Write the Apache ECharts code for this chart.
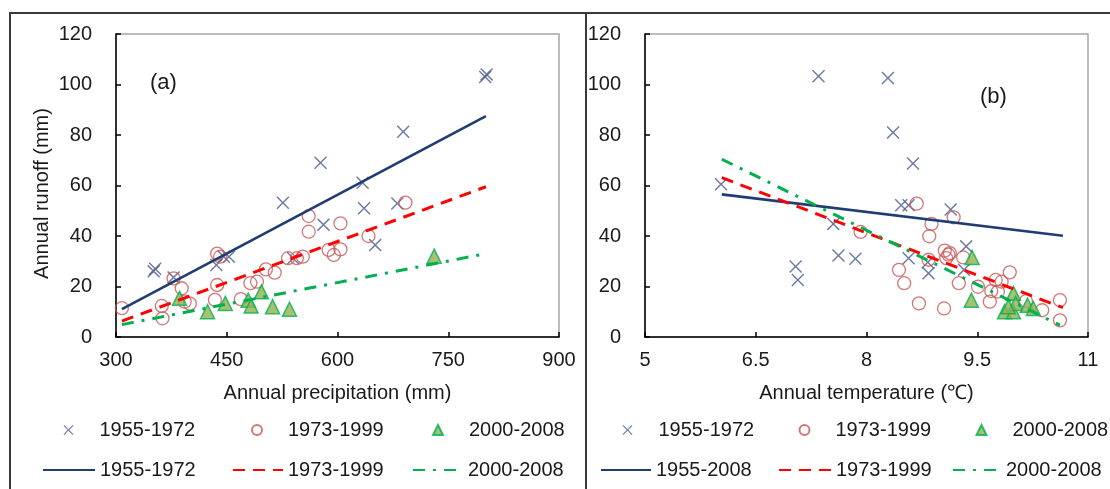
<!DOCTYPE html>
<html>
<head>
<meta charset="utf-8">
<title>runoff</title>
<script src="https://cdn.jsdelivr.net/npm/echarts@6/dist/echarts.min.js"></script>
<style>
  html, body { margin: 0; padding: 0; background: #fff; }
  #chart { width: 1110px; height: 489px; }
</style>
</head>
<body>
<div id="chart"></div>
<script>
// (a) precipitation vs runoff
var precip1 = [351, 353, 378, 436, 446, 453, 526, 540, 577, 581, 634, 636, 651, 681, 689, 800, 802];
var runoffP1 = [26, 27, 23.6, 28.5, 31.8, 31.8, 53.2, 31.2, 69, 44.5, 61.1, 51, 36.4, 52.9, 81.3, 103, 104];
var precip2 = [308, 362, 363, 378, 389, 393, 400, 434, 437, 437, 441, 469, 482, 491, 503, 515, 533, 545, 553, 561, 561, 588, 595, 604, 604, 642, 692];
var runoffP2 = [11.4, 12.3, 7.4, 23.2, 19.3, 14, 13.2, 14.7, 20.6, 33, 31.8, 15, 21.3, 21.9, 26.8, 25.5, 31.2, 31.2, 31.8, 47.9, 41.7, 34.5, 32.5, 34.7, 45, 40, 53.2];
var precip3 = [386, 424, 448, 479, 483, 497, 512, 535, 731];
var runoffP3 = [15.3, 10, 13.3, 14.6, 12.3, 17.9, 12, 11, 32];
var fitP1 = [[308, 11], [801, 87.5]];
var fitP2 = [[308, 6.3], [801, 59.5]];
var fitP3 = [[308, 4.9], [801, 33]];

// (b) temperature vs runoff
var temp1 = [6.03, 7.35, 8.29, 8.36, 8.63, 8.47, 8.57, 9.14, 7.55, 7.04, 7.07, 7.62, 7.85, 8.57, 8.83, 8.84, 9.35, 9.32];
var runoffT1 = [60.5, 103.3, 102.6, 81, 68.7, 52.2, 52.2, 50.5, 44.8, 27.9, 22.6, 32.3, 31, 31.2, 29.6, 25.2, 35.9, 26.6];
var temp2 = [8.68, 9.18, 8.88, 8.85, 7.92, 9.06, 9.11, 9.08, 9.13, 8.84, 9.31, 8.44, 8.51, 8.71, 9.05, 9.25, 9.51, 9.67, 9.69, 9.75, 9.83, 9.94, 10.16, 10.38, 10.62, 10.62, 9.78];
var runoffT2 = [52.8, 47.4, 44.8, 39.9, 41.6, 34.2, 32.6, 31.2, 33.2, 30.6, 31.5, 26.6, 21.3, 13.3, 11.3, 21.3, 19.9, 14, 18.2, 22.6, 21.9, 25.6, 14.2, 10.6, 14.6, 6.6, 18];
var temp3 = [9.43, 9.42, 9.99, 9.87, 9.99, 10.02, 10.18, 10.26, 9.92];
var runoffT3 = [31.5, 14.6, 17.3, 10, 10, 13.3, 12.6, 11.3, 12];
var fitT1 = [[6.04, 56.5], [10.66, 40.1]];
var fitT2 = [[6.04, 63.1], [10.66, 11.6]];
var fitT3 = [[6.04, 70.4], [10.62, 4.7]];

var periods = ["1955-1972", "1973-1999", "2000-2008"];
var fitNames = ["1955-1972", "1973-1999", "2000-2008", "1955-2008"];
var tempTicks = [5, 6.5, 8, 9.5, 11];

(function() {
  var myChart = echarts.init(document.getElementById("chart"));
  var font = "'Liberation Sans', Arial, sans-serif";
  var txt = "#1a1a1a";
  var crossPath = "path://M0,8L8,0L50,42L92,0L100,8L58,50L100,92L92,100L50,58L8,100L0,92L42,50Z";
  var triPath = "path://M50,0L100,100L0,100Z";

  function zip(xs, ys) {
    return xs.map(function(x, i) { return [x, ys[i]]; });
  }

  // 三种散点样式
  var marks = [
    { symbol: crossPath, symbolSize: 13, itemStyle: { color: "#4a5b8c" } },
    { symbol: "circle", symbolSize: 13, itemStyle: { color: "rgba(255,255,255,0)", borderColor: "#c85555", borderWidth: 1.3 } },
    { symbol: triPath, symbolSize: 14, itemStyle: { color: "#93b050", borderColor: "#00b050", borderWidth: 1.5 } }
  ];
  var fits = [
    { color: "#1f3c73", width: 2.6, type: "solid" },
    { color: "#ff0000", width: 3, type: [12, 8] },
    { color: "#00b050", width: 3, type: [12, 8, 3, 8] }
  ];

  function scatter(name, idx, k, data) {
    return {
      name: name, type: "scatter", xAxisIndex: idx, yAxisIndex: idx,
      symbol: marks[k].symbol, symbolSize: marks[k].symbolSize, symbolKeepAspect: true,
      itemStyle: marks[k].itemStyle, data: data, silent: true
    };
  }
  function fit(name, idx, k, data) {
    return {
      name: name, type: "line", xAxisIndex: idx, yAxisIndex: idx,
      symbol: "none", data: data, silent: true, z: 3,
      itemStyle: { color: fits[k].color },
      lineStyle: { color: fits[k].color, width: fits[k].width, type: fits[k].type }
    };
  }

  function xAxis(idx, min, max, interval, name) {
    return {
      type: "value", gridIndex: idx, min: min, max: max, interval: interval,
      name: name, nameLocation: "middle", nameGap: 46,
      nameTextStyle: { fontSize: 20, color: txt, fontFamily: font },
      axisLine: { lineStyle: { color: "#000", width: 1.5 } },
      axisTick: { inside: true, length: 5, lineStyle: { color: "#000", width: 1.5 } },
      axisLabel: { fontSize: 20, color: txt, fontFamily: font, margin: 13 },
      splitLine: { show: false }
    };
  }
  function yAxis(idx, name) {
    return {
      type: "value", gridIndex: idx, min: 0, max: 120, interval: 20,
      name: name, nameLocation: "middle", nameGap: 64,
      nameTextStyle: { fontSize: 20, color: txt, fontFamily: font, padding: [0, 16, 0, 0] },
      axisLine: { lineStyle: { color: "#000", width: 1.5 } },
      axisTick: { inside: true, length: 5, lineStyle: { color: "#000", width: 1.5 } },
      axisLabel: { fontSize: 20, color: txt, fontFamily: font, margin: 24 },
      splitLine: { show: false }
    };
  }

  var xT = xAxis(1, 5, 11, 1.5, "Annual temperature (℃)");
  xT.axisLabel.customValues = tempTicks;
  xT.axisTick.customValues = tempTicks;

  // 图例：每项单独定位
  function legend(name, left, top, w, label, isLine) {
    var lg = {
      data: [name], left: left, top: top, itemWidth: w, itemHeight: 10,
      padding: 0, selectedMode: false,
      formatter: function() { return label; },
      textStyle: { fontSize: 20, color: txt, fontFamily: font, lineHeight: 20 }
    };
    if (isLine) {
      lg.itemStyle = { color: "rgba(0,0,0,0)", borderWidth: 0, borderColor: "rgba(0,0,0,0)" };
    }
    return lg;
  }
  var row1 = 420, row2 = 460;
  var legends = [
    legend(periods[0], 63.5, row1, 52, periods[0]),
    legend(periods[1], 251, row1, 52, periods[1]),
    legend(periods[2], 432, row1, 52, periods[2]),
    legend("fit a " + fitNames[0], 42, row2, 52, fitNames[0], true),
    legend("fit a " + fitNames[1], 232, row2, 50, fitNames[1], true),
    legend("fit a " + fitNames[2], 412, row2, 50, fitNames[2], true),
    legend(periods[0], 622.5, row1, 52, periods[0]),
    legend(periods[1], 798.5, row1, 52, periods[1]),
    legend(periods[2], 975.5, row1, 52, periods[2]),
    legend("fit b " + fitNames[3], 600, row2, 50, fitNames[3], true),
    legend("fit b " + fitNames[1], 778, row2, 52, fitNames[1], true),
    legend("fit b " + fitNames[2], 952, row2, 48, fitNames[2], true)
  ];

  var frame = { type: "line", silent: true, style: { stroke: "#3a3a3a", lineWidth: 2 } };
  function seg(x1, y1, x2, y2) {
    return echarts.util.merge({ shape: { x1: x1, y1: y1, x2: x2, y2: y2 } }, frame, true);
  }

  var option = {
    animation: false,
    backgroundColor: "#fff",
    grid: [
      { left: 116, top: 34, width: 443, height: 303, show: true, borderColor: "#a6a6a6", borderWidth: 1.5 },
      { left: 645, top: 34, width: 443, height: 303, show: true, borderColor: "#a6a6a6", borderWidth: 1.5 }
    ],
    xAxis: [xAxis(0, 300, 900, 150, "Annual precipitation (mm)"), xT],
    yAxis: [yAxis(0, "Annual runoff (mm)"), yAxis(1, "")],
    legend: legends,
    graphic: [
      seg(10, 13, 1110, 13),
      seg(10, 12, 10, 489),
      seg(586, 13, 586, 489),
      { type: "text", left: 150, top: 72, style: { text: "(a)", fontSize: 22, fill: txt, fontFamily: font } },
      { type: "text", left: 980, top: 86, style: { text: "(b)", fontSize: 22, fill: txt, fontFamily: font } }
    ],
    series: [
      scatter(periods[0], 0, 0, zip(precip1, runoffP1)),
      scatter(periods[1], 0, 1, zip(precip2, runoffP2)),
      scatter(periods[2], 0, 2, zip(precip3, runoffP3)),
      fit("fit a " + fitNames[0], 0, 0, fitP1),
      fit("fit a " + fitNames[1], 0, 1, fitP2),
      fit("fit a " + fitNames[2], 0, 2, fitP3),
      scatter(periods[0], 1, 0, zip(temp1, runoffT1)),
      scatter(periods[1], 1, 1, zip(temp2, runoffT2)),
      scatter(periods[2], 1, 2, zip(temp3, runoffT3)),
      fit("fit b " + fitNames[3], 1, 0, fitT1),
      fit("fit b " + fitNames[1], 1, 1, fitT2),
      fit("fit b " + fitNames[2], 1, 2, fitT3)
    ]
  };

  myChart.setOption(option);
})();
</script>
</body>
</html>
